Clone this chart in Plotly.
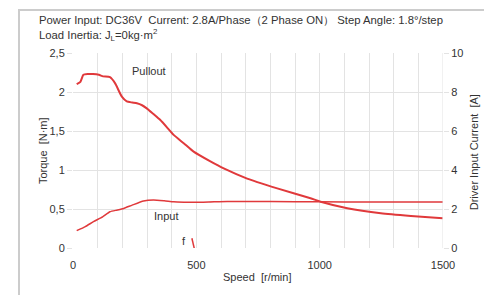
import plotly.graph_objects as go

# Pullout torque [N·m] vs speed [r/min]
pull_speed = [15, 30, 42, 60, 81, 105, 122, 150, 171, 198, 218, 240, 259, 280, 299, 325, 354, 380, 408, 450, 489, 557, 611, 706, 828, 963, 1004, 1112, 1248, 1370, 1499]
pull_torque = [2.10, 2.13, 2.22, 2.23, 2.23, 2.22, 2.20, 2.19, 2.11, 1.94, 1.88, 1.865, 1.855, 1.83, 1.79, 1.72, 1.64, 1.55, 1.45, 1.34, 1.235, 1.11, 1.02, 0.89, 0.765, 0.637, 0.594, 0.51, 0.445, 0.41, 0.38]

# Driver input current [A] vs speed
inp_speed = [15, 50, 83, 120, 150, 180, 205, 240, 286, 326, 370, 408, 450, 489, 550, 625, 800, 1000, 1200, 1500]
inp_current = [0.89, 1.10, 1.35, 1.60, 1.86, 1.95, 2.03, 2.20, 2.41, 2.46, 2.42, 2.37, 2.35, 2.34, 2.36, 2.39, 2.38, 2.37, 2.36, 2.36]

# Short "f" segment (torque scale)
f_speed = [482, 492]
f_torque = [0.125, -0.01]

RED = "#e0393b"
GRID = "#e3e3e3"
TXT = "#333333"
FONT = "Liberation Sans, Arial, sans-serif"

x_ticks = [0, 500, 1000, 1500]
y_ticks = [0, 0.5, 1, 1.5, 2, 2.5]
y_tick_text = ["0", "0,5", "1", "1,5", "2", "2,5"]
y2_ticks = [0, 2, 4, 6, 8, 10]

fig = go.Figure()
fig.add_trace(go.Scatter(x=pull_speed, y=pull_torque, mode="lines",
                         line=dict(color=RED, width=2, shape="spline", smoothing=0.5),
                         showlegend=False, hoverinfo="skip"))
fig.add_trace(go.Scatter(x=inp_speed, y=inp_current, mode="lines", yaxis="y2",
                         line=dict(color=RED, width=1.5, shape="spline", smoothing=0.5),
                         showlegend=False, hoverinfo="skip"))
fig.add_trace(go.Scatter(x=f_speed, y=f_torque, mode="lines",
                         line=dict(color=RED, width=1.5),
                         showlegend=False, hoverinfo="skip"))

# page body has an 8px margin, so the figure is sized/offset to compensate
fig.update_layout(
    width=484, height=287,
    margin=dict(l=65, r=49, t=45, b=47, autoexpand=False),
    paper_bgcolor="white", plot_bgcolor="white",
    font=dict(family=FONT, size=11, color=TXT),
    xaxis=dict(range=[0, 1500], tickvals=list(range(0, 1501, 100)),
               ticktext=[str(v) if v in x_ticks else "" for v in range(0, 1501, 100)],
               showgrid=True, gridcolor=GRID, gridwidth=1, zeroline=False,
               showline=False, ticks="outside", ticklen=7, tickcolor="rgba(0,0,0,0)",
               automargin=False,
               tickfont=dict(size=11, color=TXT)),
    yaxis=dict(range=[0, 2.5], tickvals=y_ticks, ticktext=y_tick_text,
               showgrid=True, gridcolor=GRID, zeroline=False, showline=False,
               ticks="outside", ticklen=5, tickcolor=GRID, automargin=False,
               tickfont=dict(size=11, color=TXT)),
    yaxis2=dict(range=[0, 10], tickvals=y2_ticks, overlaying="y", side="right",
                showgrid=False, zeroline=False, showline=False,
                ticks="outside", ticklen=5, tickcolor=GRID, automargin=False,
                tickfont=dict(size=11, color=TXT)),
)

# vertical grid line on the right edge
fig.add_shape(type="line", xref="x", yref="paper", x0=1500, x1=1500, y0=0, y1=1,
              line=dict(color=GRID, width=1))

# outer frame (left, top, right) drawn as a bordered empty annotation box
fig.add_annotation(xref="paper", yref="paper", x=0.4878, y=1.2256, xanchor="center", yanchor="top",
                   text=" ", showarrow=False, width=467, height=330, borderpad=0,
                   bordercolor="#cccccc", borderwidth=2, font=dict(size=11))

fig.add_annotation(xref="paper", yref="paper", x=-0.0973, y=1.169, xanchor="left", yanchor="middle",
                   text="Power Input: DC36V  Current: 2.8A/Phase（2 Phase ON） Step Angle: 1.8°/step",
                   showarrow=False, font=dict(size=11.3, color=TXT))
fig.add_annotation(xref="paper", yref="paper", x=-0.0973, y=1.092, xanchor="left", yanchor="middle",
                   text="Load Inertia: J<sub>L</sub>=0kg·m<sup>2</sup>",
                   showarrow=False, font=dict(size=11.3, color=TXT))

# axis titles
fig.add_annotation(xref="paper", yref="paper", x=0.497, y=-0.149, xanchor="center", yanchor="middle",
                   text="Speed  [r/min]", showarrow=False, font=dict(size=11, color=TXT))
fig.add_annotation(xref="paper", yref="paper", x=-0.081, y=0.497, xanchor="center", yanchor="middle",
                   text="Torque  [N·m]", textangle=-90, showarrow=False, font=dict(size=11, color=TXT))
fig.add_annotation(xref="paper", yref="paper", x=1.086, y=0.49, xanchor="center", yanchor="middle",
                   text="Driver Input Current  [A]", textangle=-90, showarrow=False,
                   font=dict(size=11, color=TXT))

fig.add_annotation(x=310, y=2.27, text="Pullout", showarrow=False, font=dict(size=11, color=TXT))
fig.add_annotation(x=378, y=0.41, text="Input", showarrow=False, font=dict(size=11, color=TXT))
fig.add_annotation(x=451, y=0.09, text="f", showarrow=False, font=dict(size=11, color=TXT))

fig.write_html("out.html")
